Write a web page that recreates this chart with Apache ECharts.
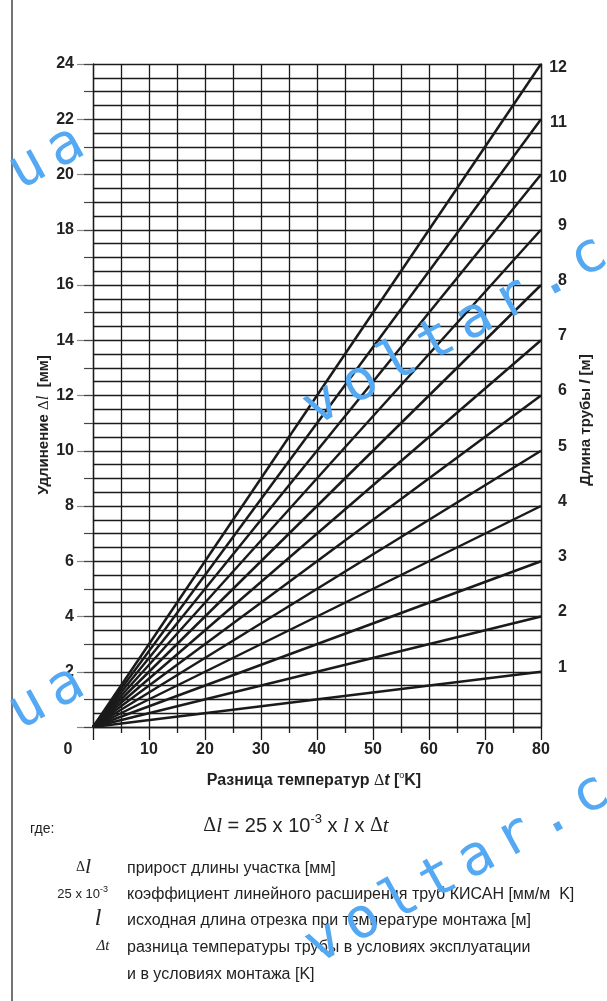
<!DOCTYPE html>
<html>
<head>
<meta charset="utf-8">
<script src="https://cdn.jsdelivr.net/npm/echarts@6/dist/echarts.min.js"></script>
<style>
html,body{margin:0;padding:0;background:#fff;}
#container{width:607px;height:1001px;}
</style>
</head>
<body>
<div id="container"></div>
<script>
// длина трубы l [м] и удлинение при Δt = 80 K
var pipeLengths = [1,2,3,4,5,6,7,8,9,10,11,12];
var elongationAt80 = [2,4,6,8,10,12,14,16,18,20,22,24];
var tempRange = [0, 80];
var elongRange = [0, 24];
var lengthRange = [0, 12];

var legendRows = [
	'прирост длины участка [мм]',
	'коэффициент линейного расширения труб КИСАН [мм/м  K]',
	'исходная длина отрезка при температуре монтажа [м]',
	'разница температуры трубы в условиях эксплуатации',
	'и в условиях монтажа [K]'
];

var ink = '#1a1a1a';
var sans = '"Liberation Sans", Arial, sans-serif';
var serif = '"Liberation Serif", "Times New Roman", serif';
var wmColor = '#55a9f2';
var wmText = 'voltar.com.ua';

var myChart = echarts.init(document.getElementById('container'));

var series = [];
for (var j = 0; j < pipeLengths.length; ++j) {
	series.push({
		name: 'l = ' + pipeLengths[j],
		type: 'line',
		yAxisIndex: 0,
		symbol: 'none',
		silent: true,
		lineStyle: {color: ink, width: 2.5},
		data: [[tempRange[0], 0], [tempRange[1], elongationAt80[j]]]
	});
}

var gridLine = {show: true, lineStyle: {color: ink, width: 1.3, type: 'solid'}};

// водяной знак: по одной букве, шаг как у моноширинного шрифта
function watermark(ax, ay, anchorIdx) {
	var ang = 29 * Math.PI / 180, pitch = 43.5, out = [];
	for (var i = 0; i < wmText.length; ++i) {
		var k = i - anchorIdx;
		out.push({
			type: 'text', z: 100, silent: true,
			x: ax + k * pitch * Math.cos(ang),
			y: ay - k * pitch * Math.sin(ang),
			rotation: ang,
			style: {text: wmText[i], font: '56px "DejaVu Sans Mono", monospace', fill: wmColor, align: 'center', verticalAlign: 'middle'}
		});
	}
	return out;
}

var txt = function (x, y, s, font, align) {
	return {type: 'text', x: x, y: y, style: {text: s, font: font, fill: '#222', align: align || 'left', verticalAlign: 'middle'}};
};

var graphics = [
	// рамка страницы слева
	{type: 'line', shape: {x1: 12, y1: 0, x2: 12, y2: 1001}, style: {stroke: '#444', lineWidth: 1.5}, z: 1},
	// общий ноль
	txt(68, 750, '0', 'bold 16px ' + sans, 'center'),
	// подпись оси X
	{type: 'text', x: 314, y: 781, style: {
		text: '{b|Разница температур }{d|Δ}{t|t}{b| [}{o|o}{b|K]}',
		align: 'center', verticalAlign: 'middle',
		rich: {
			b: {font: 'bold 16px ' + sans, fill: '#222', lineHeight: 20},
			d: {font: '16px ' + serif, fill: '#222', lineHeight: 20},
			t: {font: 'bold italic 16px ' + sans, fill: '#222', lineHeight: 20},
			o: {font: '9px ' + sans, fill: '#222', lineHeight: 20, verticalAlign: 'top', padding: [0, 0, 12, 0]}
		}
	}},
	// подпись левой оси
	{type: 'text', x: 44, y: 425, rotation: Math.PI / 2, style: {
		text: '{b|Удлинение }{d|Δ}{i|l}{b|  [мм]}',
		align: 'center', verticalAlign: 'middle',
		rich: {
			b: {font: 'bold 15px ' + sans, fill: '#222'},
			d: {font: '15px ' + serif, fill: '#222'},
			i: {font: 'italic 17px ' + serif, fill: '#222'}
		}
	}},
	// подпись правой оси
	{type: 'text', x: 586, y: 420, rotation: Math.PI / 2, style: {
		text: '{b|Длина трубы }{i|l}{b| [м]}',
		align: 'center', verticalAlign: 'middle',
		rich: {
			b: {font: 'bold 15px ' + sans, fill: '#222'},
			i: {font: 'bold italic 15px ' + sans, fill: '#222'}
		}
	}},
	// формула
	{type: 'text', x: 296, y: 826, style: {
		text: '{d|Δ}{i|l}{n| = 25 x 10}{s|-3}{n| x }{i|l}{n| x }{d|Δ}{i|t}',
		align: 'center', verticalAlign: 'middle',
		rich: {
			n: {font: '20px ' + sans, fill: '#222', lineHeight: 26},
			d: {font: '20px ' + serif, fill: '#222', lineHeight: 26},
			i: {font: 'italic 21px ' + serif, fill: '#222', lineHeight: 26},
			s: {font: '13px ' + sans, fill: '#222', lineHeight: 26, verticalAlign: 'top', padding: [0, 0, 14, 0]}
		}
	}},
	txt(30, 829, 'где:', '14px ' + sans),
	{type: 'text', x: 91, y: 867, style: {
		text: '{d|Δ}{i|l}', align: 'right', verticalAlign: 'middle',
		rich: {d: {font: '14px ' + serif, fill: '#222'}, i: {font: 'italic 22px ' + serif, fill: '#222'}}
	}},
	{type: 'text', x: 108, y: 894, style: {
		text: '{n|25 x 10}{s|-3}', align: 'right', verticalAlign: 'middle',
		rich: {
			n: {font: '13px ' + sans, fill: '#222', lineHeight: 18},
			s: {font: '9px ' + sans, fill: '#222', lineHeight: 18, verticalAlign: 'top', padding: [0, 0, 10, 0]}
		}
	}},
	txt(98, 919, 'l', 'italic 24px ' + serif, 'center'),
	txt(103, 946, 'Δt', 'italic 15px ' + serif, 'center')
];
var rowY = [869, 895, 921, 948, 975];
for (var r = 0; r < legendRows.length; ++r) {
	graphics.push(txt(127, rowY[r], legendRows[r], '16px ' + sans));
}
graphics = graphics
	.concat(watermark(551, 279, 6))
	.concat(watermark(553, 817, 6))
	.concat(watermark(66, 148, 12))
	.concat(watermark(66, 688, 12));

var boldLabel = {fontSize: 16, fontWeight: 'bold', fontFamily: sans, color: '#222'};

var option = {
	animation: false,
	backgroundColor: '#fff',
	grid: {left: 93, top: 64, width: 448, height: 663},
	xAxis: {
		type: 'value',
		min: tempRange[0],
		max: tempRange[1],
		interval: 10,
		axisLine: {show: true, lineStyle: {color: ink, width: 1.3}},
		axisTick: {show: true, length: 13, lineStyle: {color: ink, width: 1.3}},
		minorTick: {show: true, splitNumber: 2, length: 6, lineStyle: {color: ink, width: 1.3}},
		splitLine: gridLine,
		minorSplitLine: gridLine,
		axisLabel: {
			margin: 15,
			color: '#222',
			fontSize: 16,
			fontWeight: 'bold',
			fontFamily: sans,
			formatter: function (v) { return v === 0 ? '' : String(v); }
		}
	},
	yAxis: [
		{
			type: 'value',
			position: 'left',
			min: elongRange[0],
			max: elongRange[1],
			interval: 2,
			axisLine: {show: true, lineStyle: {color: ink, width: 1.3}},
			axisTick: {show: true, length: 16, lineStyle: {color: '#888', width: 1.2}},
			minorTick: {show: true, splitNumber: 4, length: 0, lineStyle: {opacity: 0}},
			splitLine: gridLine,
			minorSplitLine: gridLine,
			axisLabel: {
				margin: 19,
				color: '#222',
				fontSize: 16,
				fontWeight: 'bold',
				fontFamily: sans,
				formatter: function (v) { return v === 0 ? '' : String(v); }
			}
		},
		{
			type: 'value',
			position: 'left',
			min: elongRange[0],
			max: elongRange[1],
			interval: 1,
			axisLine: {show: false},
			axisTick: {show: true, length: 9, lineStyle: {color: '#444', width: 1.2}},
			axisLabel: {show: false},
			splitLine: {show: false}
		},
		{
			type: 'value',
			position: 'right',
			min: lengthRange[0],
			max: lengthRange[1],
			interval: 1,
			axisLine: {show: true, lineStyle: {color: ink, width: 1.3}},
			axisTick: {show: false},
			splitLine: {show: false},
			axisLabel: {
				margin: 26,
				align: 'right',
				formatter: function (v) {
					if (v === 0) return '';
					return (v >= 10 ? '{d|' : '{u|') + v + '}';
				},
				rich: {
					u: Object.assign({padding: [0, 0, 9, 0]}, boldLabel),
					d: Object.assign({padding: [7, 0, 0, 0]}, boldLabel)
				}
			}
		}
	],
	graphic: graphics,
	series: series
};
myChart.setOption(option);
</script>
</body>
</html>
